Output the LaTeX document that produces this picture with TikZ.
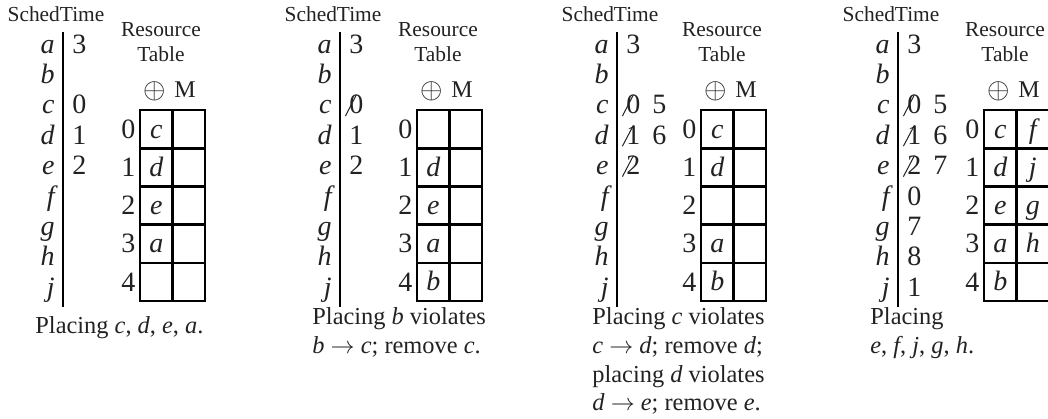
\documentclass[tikz,border=0pt]{standalone}
\usepackage{fontspec}
\setmainfont{Liberation Serif}
\usepackage{tikz}
\usetikzlibrary{positioning, calc}
\definecolor{inkText}{HTML}{222222}
\definecolor{ruleLine}{HTML}{000000}
\newcommand{\mainsize}{\fontsize{12.2}{14.35}\selectfont}
\newcommand{\cellsize}{\fontsize{14}{16}\selectfont}
\newcommand{\hdrsize}{\fontsize{10.7}{12.5}\selectfont}

\begin{document}
\begin{tikzpicture}[
  x=0.5pt, y=-0.5pt,
  every node/.style={inner sep=0pt, text=inkText},
  hdr/.style={font=\hdrsize, align=center},
  ltr/.style={anchor=base east, font=\cellsize\itshape},
  num/.style={anchor=base west, font=\cellsize},
  first/.style={num, xshift=8.5pt},
  second/.style={num, xshift=21.5pt},
  strike/.style={draw=inkText, line width=0.5pt},
  timeline/.style={draw=ruleLine, line width=1.4pt},
  cell/.style={draw=ruleLine, line width=1.3pt, minimum width=16.25pt, minimum height=19.1pt},
  rowlab/.style={anchor=east, xshift=-1.5pt, font=\cellsize},
  entry/.style={font=\cellsize\itshape, text height=9pt, text depth=0pt},
  caption/.style={anchor=north west, align=left, font=\mainsize},
]
  \useasboundingbox (0,0) rectangle (1048,418);

  % same frame in all four steps
  \foreach \p/\L/\T in {1/63/140, 2/340/417, 3/617/701, 4/898/984} {
    \node[hdr, anchor=base] (st\p) at ({\L-7}, 21) {SchedTime};
    \node[hdr, anchor=north] (rt\p) at ({\T+21}, 22.5) {Resource\\Table};
    \node[anchor=base, font=\fontsize{15}{17}\selectfont] (op\p) at ({\T+15}, 98) {$\oplus$};
    \node[anchor=base, font=\fontsize{12}{14}\selectfont] (mm\p) at ({\T+45}, 97) {M};
    \foreach \i/\lt in {0/a, 1/b, 2/c, 3/d, 4/e, 5/f, 6/g, 7/h, 8/j}
      \node[ltr] (\lt\p) at ({\L-8}, {53+30.4*\i}) {\lt};
    \coordinate (top\p) at (\L, 32);
    \coordinate (bot\p) at (\L, 307);
    \draw[timeline] (top\p) -- (bot\p);
    \foreach \r in {0,...,4} {
      \node[cell] (cell\p-\r-a) at ({\T+16.25}, {129.1+38.2*\r}) {};
      \node[cell] (cell\p-\r-b) at ({\T+48.75}, {129.1+38.2*\r}) {};
      \node[rowlab] (row\p-\r) at (cell\p-\r-a.west) {\r};
    }
  }

  % step 1
  \node[first] (a1x) at (a1.base east) {3};
  \node[first] (c1x) at (c1.base east) {0};
  \node[first] (d1x) at (d1.base east) {1};
  \node[first] (e1x) at (e1.base east) {2};
  \node[entry] (t1-0) at (cell1-0-a) {c};
  \node[entry] (t1-1) at (cell1-1-a) {d};
  \node[entry] (t1-2) at (cell1-2-a) {e};
  \node[entry] (t1-3) at (cell1-3-a) {a};
  \node[caption] (cap1) at (35, 316) {Placing \textit{c}, \textit{d}, \textit{e}, \textit{a}.};

  % step 2
  \node[first] (a2x) at (a2.base east) {3};
  \node[first] (c2x) at (c2.base east) {0};
  \node[first] (d2x) at (d2.base east) {1};
  \node[first] (e2x) at (e2.base east) {2};
  \draw[strike] ([shift={(-1.8pt,-0.8pt)}]c2x.south west) -- (c2x.north);
  \node[entry] (t2-1) at (cell2-1-a) {d};
  \node[entry] (t2-2) at (cell2-2-a) {e};
  \node[entry] (t2-3) at (cell2-3-a) {a};
  \node[entry] (t2-4) at (cell2-4-a) {b};
  \node[caption] (cap2) at (312, 307.3)
    {Placing \textit{b} violates\\\textit{b} $\rightarrow$ \textit{c}; remove \textit{c}.};

  % step 3
  \node[first] (a3x) at (a3.base east) {3};
  \node[first] (c3x) at (c3.base east) {0};
  \node[second] (c3y) at (c3.base east) {5};
  \node[first] (d3x) at (d3.base east) {1};
  \node[second] (d3y) at (d3.base east) {6};
  \node[first] (e3x) at (e3.base east) {2};
  \draw[strike] ([shift={(-1.8pt,-0.8pt)}]c3x.south west) -- (c3x.north);
  \draw[strike] ([shift={(-1.8pt,-0.8pt)}]d3x.south west) -- (d3x.north);
  \draw[strike] ([shift={(-1.8pt,-0.8pt)}]e3x.south west) -- (e3x.north);
  \node[entry] (t3-0) at (cell3-0-a) {c};
  \node[entry] (t3-1) at (cell3-1-a) {d};
  \node[entry] (t3-3) at (cell3-3-a) {a};
  \node[entry] (t3-4) at (cell3-4-a) {b};
  \node[caption] (cap3) at (592, 307.3)
    {Placing \textit{c} violates\\\textit{c} $\rightarrow$ \textit{d}; remove \textit{d};\\
     placing \textit{d} violates\\\textit{d} $\rightarrow$ \textit{e}; remove \textit{e}.};

  % step 4
  \node[first] (a4x) at (a4.base east) {3};
  \node[first] (c4x) at (c4.base east) {0};
  \node[second] (c4y) at (c4.base east) {5};
  \node[first] (d4x) at (d4.base east) {1};
  \node[second] (d4y) at (d4.base east) {6};
  \node[first] (e4x) at (e4.base east) {2};
  \node[second] (e4y) at (e4.base east) {7};
  \node[first] (f4x) at (f4.base east) {0};
  \node[first] (g4x) at (g4.base east) {7};
  \node[first] (h4x) at (h4.base east) {8};
  \node[first] (j4x) at (j4.base east) {1};
  \draw[strike] ([shift={(-1.8pt,-0.8pt)}]c4x.south west) -- (c4x.north);
  \draw[strike] ([shift={(-1.8pt,-0.8pt)}]d4x.south west) -- (d4x.north);
  \draw[strike] ([shift={(-1.8pt,-0.8pt)}]e4x.south west) -- (e4x.north);
  \node[entry] (t4-0) at (cell4-0-a) {c};
  \node[entry] (t4-1) at (cell4-1-a) {d};
  \node[entry] (t4-2) at (cell4-2-a) {e};
  \node[entry] (t4-3) at (cell4-3-a) {a};
  \node[entry] (t4-4) at (cell4-4-a) {b};
  \node[entry] (u4-0) at (cell4-0-b) {f};
  \node[entry] (u4-1) at (cell4-1-b) {j};
  \node[entry] (u4-2) at (cell4-2-b) {g};
  \node[entry] (u4-3) at (cell4-3-b) {h};
  \node[caption] (cap4) at (870, 307.3)
    {Placing\\\textit{e}, \textit{f}, \textit{j}, \textit{g}, \textit{h}.};
\end{tikzpicture}
\end{document}
